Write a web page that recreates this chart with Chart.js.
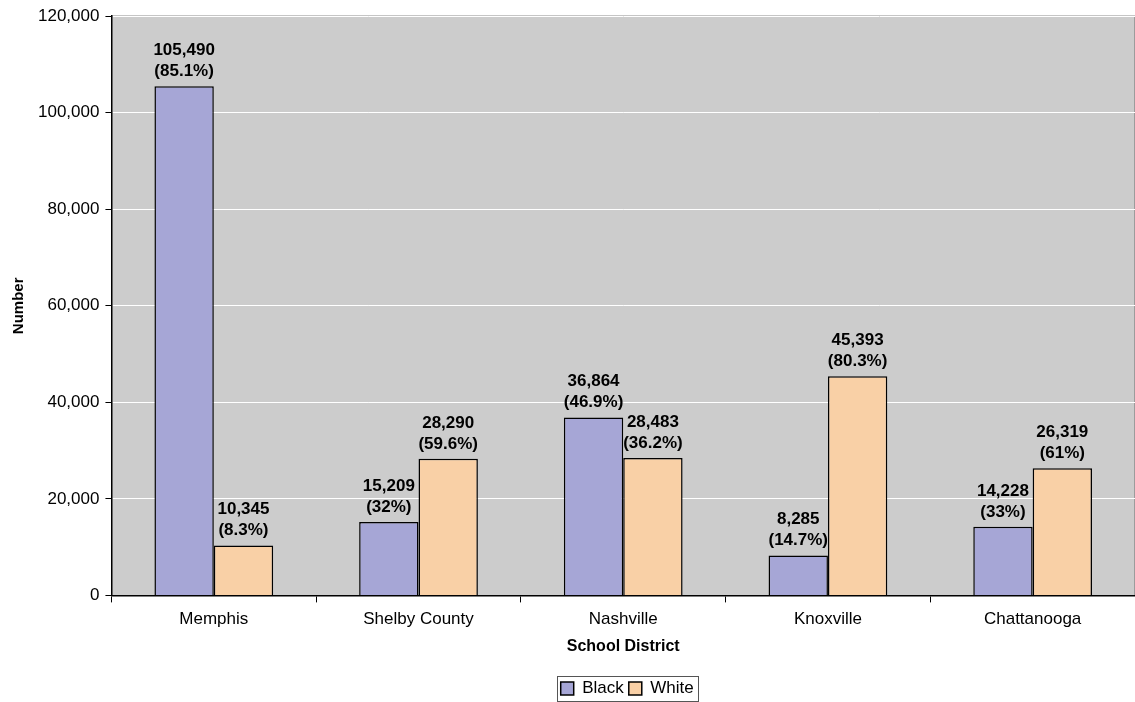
<!DOCTYPE html>
<html>
<head>
<meta charset="utf-8">
<script src="https://cdn.jsdelivr.net/npm/chart.js@4/dist/chart.umd.min.js"></script>
<style>
  html, body { margin: 0; padding: 0; background: #fff; }
  #wrap { width: 1135px; height: 702px; }
</style>
</head>
<body>
<div id="wrap"><canvas id="chart"></canvas></div>
<script>
// Chart data
const districts = ["Memphis", "Shelby County", "Nashville", "Knoxville", "Chattanooga"];
const blackCounts = [105490, 15209, 36864, 8285, 14228];
const blackPct = ["85.1", "32", "46.9", "14.7", "33"];
const whiteCounts = [10345, 28290, 28483, 45393, 26319];
const whitePct = ["8.3", "59.6", "36.2", "80.3", "61"];
const yTicks = [0, 20000, 40000, 60000, 80000, 100000, 120000];

Chart.defaults.font.family = "'Liberation Sans', Arial, sans-serif";
Chart.defaults.color = "#000";

// gray plot background + border
const plotBg = {
    id: "plotBg",
    beforeDraw(chart) {
        const { ctx, chartArea: a } = chart;
        ctx.save();
        ctx.fillStyle = "#cccccc";
        ctx.fillRect(a.left, a.top, a.right - a.left, a.bottom - a.top);
        ctx.strokeStyle = "#8c8c8c";
        ctx.lineWidth = 1.5;
        ctx.beginPath();
        ctx.moveTo(a.left, a.top);
        ctx.lineTo(a.right, a.top);
        ctx.lineTo(a.right, a.bottom);
        ctx.stroke();
        ctx.restore();
    }
};

// value + percent labels above each bar
const pctLists = [blackPct, whitePct];
const barLabels = {
    id: "barLabels",
    afterDatasetsDraw(chart) {
        const ctx = chart.ctx;
        ctx.save();
        ctx.font = "bold 17px 'Liberation Sans', Arial, sans-serif";
        ctx.fillStyle = "#000";
        ctx.textAlign = "center";
        ctx.textBaseline = "alphabetic";
        chart.data.datasets.forEach((ds, di) => {
            chart.getDatasetMeta(di).data.forEach((bar, i) => {
                ctx.fillText("(" + pctLists[di][i] + "%)", bar.x, bar.y - 10);
                ctx.fillText(ds.data[i].toLocaleString("en-US"), bar.x, bar.y - 31);
            });
        });
        ctx.restore();
    }
};

// centre the legend under the plot area and put a border round it
const legendBox = {
    id: "legendBox",
    afterLayout(chart) {
        const lg = chart.legend;
        const a = chart.chartArea;
        const shift = (a.left + a.right) / 2 - (lg.left + lg.right) / 2 + 4;
        lg.left += shift;
        lg.right += shift;
        (lg.legendHitBoxes || []).forEach(b => { b.left += shift; });
    },
    afterDraw(chart) {
        const boxes = chart.legend.legendHitBoxes;
        if (!boxes || !boxes.length) return;
        const l = Math.min(...boxes.map(b => b.left)) - 4;
        const r = Math.max(...boxes.map(b => b.left + b.width)) + 4;
        const t = Math.min(...boxes.map(b => b.top)) - 4;
        const bt = Math.max(...boxes.map(b => b.top + b.height)) + 4;
        const ctx = chart.ctx;
        ctx.save();
        ctx.strokeStyle = "#555";
        ctx.lineWidth = 1;
        ctx.strokeRect(Math.round(l) + 0.5, Math.round(t) + 0.5, Math.round(r - l), Math.round(bt - t));
        ctx.restore();
    }
};

new Chart(document.getElementById("chart"), {
    type: "bar",
    data: {
        labels: districts,
        datasets: [
            {
                label: "Black",
                data: blackCounts,
                backgroundColor: "#a6a6d6",
                borderColor: "#000",
                borderWidth: 1.5,
                categoryPercentage: 0.58,
                barPercentage: 1.0
            },
            {
                label: "White",
                data: whiteCounts,
                backgroundColor: "#f9d0a6",
                borderColor: "#000",
                borderWidth: 1.5,
                categoryPercentage: 0.58,
                barPercentage: 1.0
            }
        ]
    },
    options: {
        responsive: true,
        maintainAspectRatio: false,
        animation: false,
        layout: { padding: { top: 6, right: 0, left: 10, bottom: -5 } },
        plugins: {
            tooltip: { enabled: false },
            legend: {
                position: "bottom",
                labels: {
                    boxWidth: 13,
                    boxHeight: 13,
                    padding: 5,
                    font: { size: 17 },
                    color: "#000"
                }
            }
        },
        scales: {
            x: {
                grid: {
                    offset: true,
                    drawOnChartArea: false,
                    tickLength: 7,
                    tickColor: "#000"
                },
                border: { color: "#000", width: 1.5 },
                ticks: { font: { size: 17 }, color: "#000", padding: 7 },
                title: {
                    display: true,
                    text: "School District",
                    font: { size: 16, weight: "bold" },
                    color: "#000",
                    padding: { top: 0, bottom: 19 }
                }
            },
            y: {
                min: 0,
                max: 120000,
                afterBuildTicks(axis) {
                    axis.ticks = yTicks.map(v => ({ value: v }));
                },
                grid: {
                    color: "#ffffff",
                    lineWidth: 1,
                    tickLength: 6,
                    tickColor: "#000"
                },
                border: { color: "#000", width: 1.5 },
                ticks: {
                    font: { size: 17 },
                    color: "#000",
                    padding: 6,
                    callback: v => v.toLocaleString("en-US")
                },
                title: {
                    display: true,
                    text: "Number",
                    font: { size: 15, weight: "bold" },
                    color: "#000",
                    padding: { top: 0, bottom: 4 }
                }
            }
        }
    },
    plugins: [plotBg, barLabels, legendBox]
});
</script>
</body>
</html>
